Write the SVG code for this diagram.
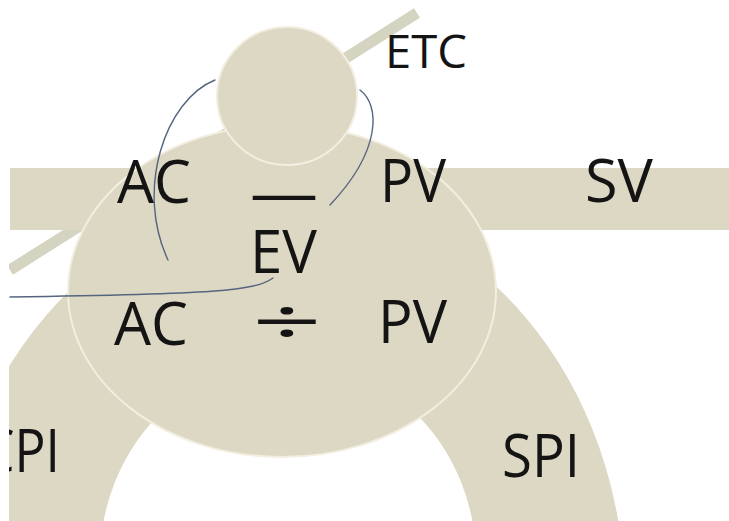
<svg xmlns="http://www.w3.org/2000/svg" width="729" height="521" viewBox="0 0 729 521">
  <style>
    .shape { fill: #ddd8c3; }
    .outline { stroke: #f2eee0; stroke-width: 2; }
    .lbl { font-family: "Open Sans", "Liberation Sans", sans-serif; fill: #141414; font-size: 61px; }
    .small { font-size: 46px; }
    .sym { font-size: 66px; }
    .conn { fill: none; stroke: #56657f; stroke-width: 1.4; stroke-linecap: round; }
  </style>
  <rect x="0" y="0" width="729" height="521" fill="#ffffff"/>

  <g id="stick">
    <line x1="417" y1="13" x2="10" y2="270" stroke="#d4d4c0" stroke-width="11"/>
  </g>
  <g id="band">
    <rect class="shape" x="10" y="168" width="719" height="62"/>
  </g>
  <g id="arch">
    <path class="shape" fill-rule="evenodd" d="M -55,600 A 340,400 0 0 1 625,600 Z M 100,560 A 188,200 0 0 1 476,560 L 476,600 L 100,600 Z"/>
  </g>
  <g id="body">
    <ellipse class="shape outline" cx="282" cy="291" rx="214" ry="166"/>
  </g>
  <g id="head">
    <ellipse class="shape outline" cx="287" cy="96" rx="70" ry="69"/>
  </g>

  <g id="connectors">
    <path class="conn" d="M215,80 C165,100 135,190 168,260"/>
    <path class="conn" d="M360,90 C380,105 382,150 330,205"/>
    <path class="conn" d="M273,278 C255,291 215,294 10,297"/>
  </g>

  <g id="labels">
    <g id="etc"><text class="lbl small" x="385" y="68" textLength="82" lengthAdjust="spacingAndGlyphs">ETC</text></g>
    <g id="ac1"><text class="lbl" x="117" y="203" textLength="74" lengthAdjust="spacingAndGlyphs">AC</text></g>
    <g id="minus"><text class="lbl" x="250" y="214" textLength="68" lengthAdjust="spacingAndGlyphs">—</text></g>
    <g id="pv1"><text class="lbl" x="380" y="202" textLength="66" lengthAdjust="spacingAndGlyphs">PV</text></g>
    <g id="sv"><text class="lbl" x="585" y="202" textLength="68" lengthAdjust="spacingAndGlyphs">SV</text></g>
    <g id="ev"><text class="lbl" x="250" y="273" textLength="67" lengthAdjust="spacingAndGlyphs">EV</text></g>
    <g id="ac2"><text class="lbl" x="114" y="345" textLength="74" lengthAdjust="spacingAndGlyphs">AC</text></g>
    <g id="divide"><text class="lbl sym" x="252" y="345" textLength="70" lengthAdjust="spacingAndGlyphs">÷</text></g>
    <g id="pv2"><text class="lbl" x="378" y="343" textLength="69" lengthAdjust="spacingAndGlyphs">PV</text></g>
    <g id="spi"><text class="lbl" x="502" y="477" textLength="78" lengthAdjust="spacingAndGlyphs">SPI</text></g>
    <g id="cpi"><text class="lbl" x="-18" y="472" textLength="78" lengthAdjust="spacingAndGlyphs">CPI</text></g>
  </g>

  <rect x="0" y="0" width="9" height="521" fill="#ffffff"/>
</svg>
